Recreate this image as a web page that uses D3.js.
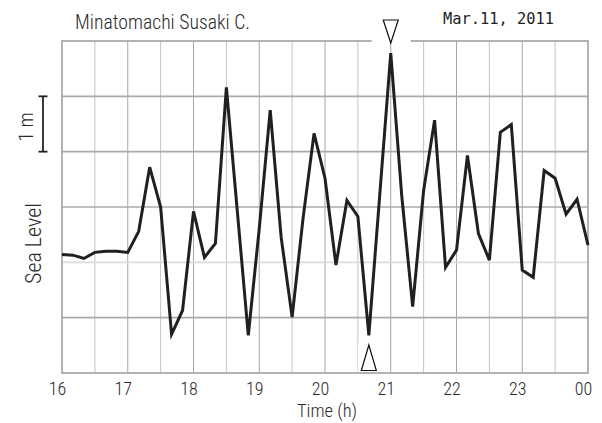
<!DOCTYPE html>
<html>
<head>
<meta charset="utf-8">
<script src="https://cdn.jsdelivr.net/npm/d3@7"></script>
<style>
  html, body { margin: 0; padding: 0; background: #fff; }
  svg { display: block; }
  .narrow { font-family: "Liberation Sans Narrow", "Arial Narrow", "Roboto Condensed", "Liberation Sans", Arial, sans-serif; }
</style>
</head>
<body>
<svg id="chart" width="602" height="423"></svg>
<script>
// Sea level record, 10-minute samples from 16:00 to 24:00 (metres)
const startHour = 16;
const stepMinutes = 10;
const seaLevel = [
  0.14, 0.13, 0.07, 0.18, 0.20, 0.20, 0.18, 0.56, 1.72, 1.00,
  -1.30, -0.87, 0.92, 0.09, 0.34, 3.16, 0.92, -1.32, 0.61, 2.75,
  0.45, -0.99, 0.80, 2.33, 1.52, -0.05, 1.12, 0.83, -1.32, 1.23,
  3.78, 1.21, -0.80, 1.30, 2.57, -0.09, 0.22, 1.93, 0.52, 0.04,
  2.35, 2.49, -0.14, -0.27, 1.66, 1.52, 0.87, 1.14, 0.31
];
const hourTicks = [16, 17, 18, 19, 20, 21, 22, 23, 24];
const hourLabels = ["16", "17", "18", "19", "20", "21", "22", "23", "00"];
const levelTicks = [-2, -1, 0, 1, 2, 3, 4];
const markerMaxHour = 21;           // ▽ marker
const markerMinHour = 20 + 40 / 60; // △ marker
const titleText = "Minatomachi Susaki C.";
const dateText = "Mar.11, 2011";

const svg = d3.select("#chart");
const padL = 62, padR = 588, padT = 41, padB = 373;
const ink = "#2a2a2a";

const x = d3.scaleLinear().domain([16, 24]).range([padL, padR]);
const y = d3.scaleLinear().domain([-2, 4]).range([padB, padT]);

const points = seaLevel.map((v, i) => ({ t: startHour + i * stepMinutes / 60, v }));

// grid: half-hour verticals (light) and hour verticals (darker)
const halfHours = d3.range(16.5, 24, 1);
svg.append("g").selectAll("line").data(halfHours).join("line")
  .attr("x1", d => x(d)).attr("x2", d => x(d))
  .attr("y1", padT).attr("y2", padB)
  .attr("stroke", "#c4c4c4").attr("stroke-width", 1);
svg.append("g").selectAll("line").data(hourTicks.slice(1, -1)).join("line")
  .attr("x1", d => x(d)).attr("x2", d => x(d))
  .attr("y1", padT).attr("y2", padB)
  .attr("stroke", "#a6a6a6").attr("stroke-width", 1);

// horizontal grid, with the mean level drawn lighter
svg.append("g").selectAll("line").data(levelTicks.slice(1, -1)).join("line")
  .attr("x1", padL).attr("x2", padR)
  .attr("y1", d => y(d)).attr("y2", d => y(d))
  .attr("stroke", d => d === 0 ? "#dcdcdc" : "#aaaaaa")
  .attr("stroke-width", 1.6);

// frame
svg.append("rect")
  .attr("x", padL).attr("y", padT)
  .attr("width", padR - padL).attr("height", padB - padT)
  .attr("fill", "none").attr("stroke", "#a0a0a0").attr("stroke-width", 1.6);

// bottom axis labels
const xAxis = d3.axisBottom(x).tickValues(hourTicks)
  .tickFormat((d, i) => hourLabels[i]).tickSize(0).tickPadding(0);
const gx = svg.append("g").attr("transform", `translate(0,${padB})`).call(xAxis);
gx.select(".domain").remove();
gx.selectAll("text")
  .attr("class", "narrow")
  .attr("font-size", 18).attr("font-weight", 300).attr("fill", ink)
  .attr("dx", -5).attr("dy", 0).attr("y", 22);

svg.append("text").attr("class", "narrow")
  .attr("x", 327).attr("y", 417)
  .attr("text-anchor", "middle").attr("font-size", 18.5).attr("font-weight", 300).attr("fill", ink)
  .text("Time (h)");

// sea level line
const line = d3.line().x(d => x(d.t)).y(d => y(d.v));
svg.append("path").datum(points)
  .attr("d", line)
  .attr("fill", "none").attr("stroke", "#231f20")
  .attr("stroke-width", 3).attr("stroke-linejoin", "miter");

// markers with white backing
const topMarkX = x(markerMaxHour);
svg.append("rect").attr("x", topMarkX - 19).attr("y", 0)
  .attr("width", 39).attr("height", padT + 1).attr("fill", "#fff");
svg.append("path")
  .attr("d", `M${topMarkX - 7.5},20 L${topMarkX + 7.5},20 L${topMarkX},43 Z`)
  .attr("fill", "#fff").attr("stroke", "#111").attr("stroke-width", 1.2);

const botMarkX = x(markerMinHour);
svg.append("rect").attr("x", botMarkX - 11).attr("y", 343)
  .attr("width", 31).attr("height", padB - 343 - 1).attr("fill", "#fff").attr("opacity", 0.85);
svg.append("path")
  .attr("d", `M${botMarkX},345 L${botMarkX + 7.5},370.5 L${botMarkX - 7.5},370.5 Z`)
  .attr("fill", "#fff").attr("stroke", "#111").attr("stroke-width", 1.2);

// titles
svg.append("text").attr("class", "narrow")
  .attr("x", 75).attr("y", 29).attr("font-size", 19.5).attr("font-weight", 300).attr("fill", ink)
  .attr("textLength", 175).attr("lengthAdjust", "spacingAndGlyphs")
  .text(titleText);
svg.append("text")
  .attr("x", 443).attr("y", 23.5)
  .attr("font-family", "'DejaVu Sans Mono', 'Liberation Mono', monospace")
  .attr("font-size", 16).attr("fill", "#222")
  .attr("textLength", 111).attr("lengthAdjust", "spacingAndGlyphs")
  .text(dateText);

// y label and 1 m scale bar
svg.append("text").attr("class", "narrow")
  .attr("transform", "translate(41,243.5) rotate(-90)")
  .attr("text-anchor", "middle").attr("font-size", 22).attr("font-weight", 300).attr("fill", ink)
  .text("Sea Level");
svg.append("text").attr("class", "narrow")
  .attr("transform", "translate(33,127) rotate(-90)")
  .attr("text-anchor", "middle").attr("font-size", 20).attr("font-weight", 300).attr("fill", ink)
  .text("1 m");
const barX = 43;
const bar = svg.append("g").attr("stroke", "#222").attr("stroke-width", 1.8);
bar.append("line").attr("x1", barX).attr("x2", barX).attr("y1", y(3)).attr("y2", y(2));
bar.append("line").attr("x1", barX - 4.5).attr("x2", barX + 4.5).attr("y1", y(3)).attr("y2", y(3));
bar.append("line").attr("x1", barX - 4.5).attr("x2", barX + 4.5).attr("y1", y(2)).attr("y2", y(2));
</script>
</body>
</html>
